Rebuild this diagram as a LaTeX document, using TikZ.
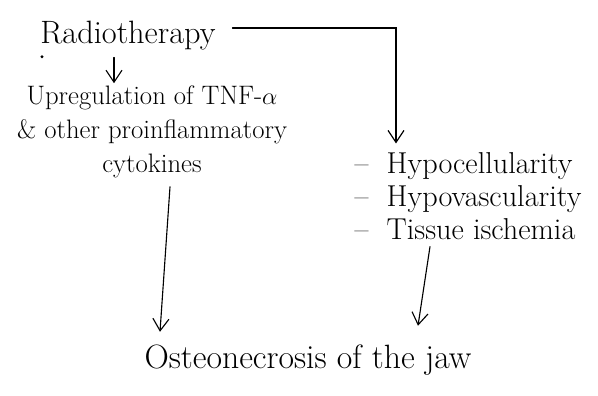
\documentclass[tikz,border=0pt]{standalone}
\usepackage{tikz}
\usetikzlibrary{arrows.meta,positioning}

\begin{document}
\begin{tikzpicture}[
  step text/.style={align=center, font=\fontsize{19}{24}\selectfont},
  big text/.style={align=center, font=\fontsize{23}{28}\selectfont},
  list text/.style={align=left, font=\fontsize{21.5}{23.5}\selectfont},
  flow/.style={-{Straight Barb[length=3mm,width=4mm]}, thick, line cap=round},
]
  \useasboundingbox (0,0) rectangle (14.95,9.9);

  \node[big text] (radio) at (3.2,9.0) {Radiotherapy};
  \node[step text] (upreg) at (3.8,6.6) {Upregulation of TNF-$\alpha$\\\& other proinflammatory\\cytokines};
  \node[list text] (hypo) at (11.7,5.0) {-- \ Hypocellularity\\-- \ Hypovascularity\\-- \ Tissue ischemia};
  \node[big text, font=\fontsize{24}{28}\selectfont] (osteo) at (7.7,0.9) {Osteonecrosis of the jaw};
  \fill (1.05,8.48) circle (1.2pt);

  \draw[flow] ([xshift=-0.35cm,yshift=-0.05cm]radio.south) -- ([xshift=-0.35cm,yshift=-0.05cm]radio.south |- upreg.north);
  \draw[flow] ([xshift=0.3cm,yshift=0.2cm]radio.east) -| ([xshift=-1.8cm,yshift=0.1cm]hypo.north);
  \draw[flow] ([xshift=0.45cm,yshift=-0.1cm]upreg.south) -- ([xshift=-3.7cm,yshift=0.2cm]osteo.north);
  \draw[flow] ([xshift=-0.95cm,yshift=-0.05cm]hypo.south) -- ([xshift=2.75cm,yshift=0.35cm]osteo.north);
\end{tikzpicture}
\end{document}
